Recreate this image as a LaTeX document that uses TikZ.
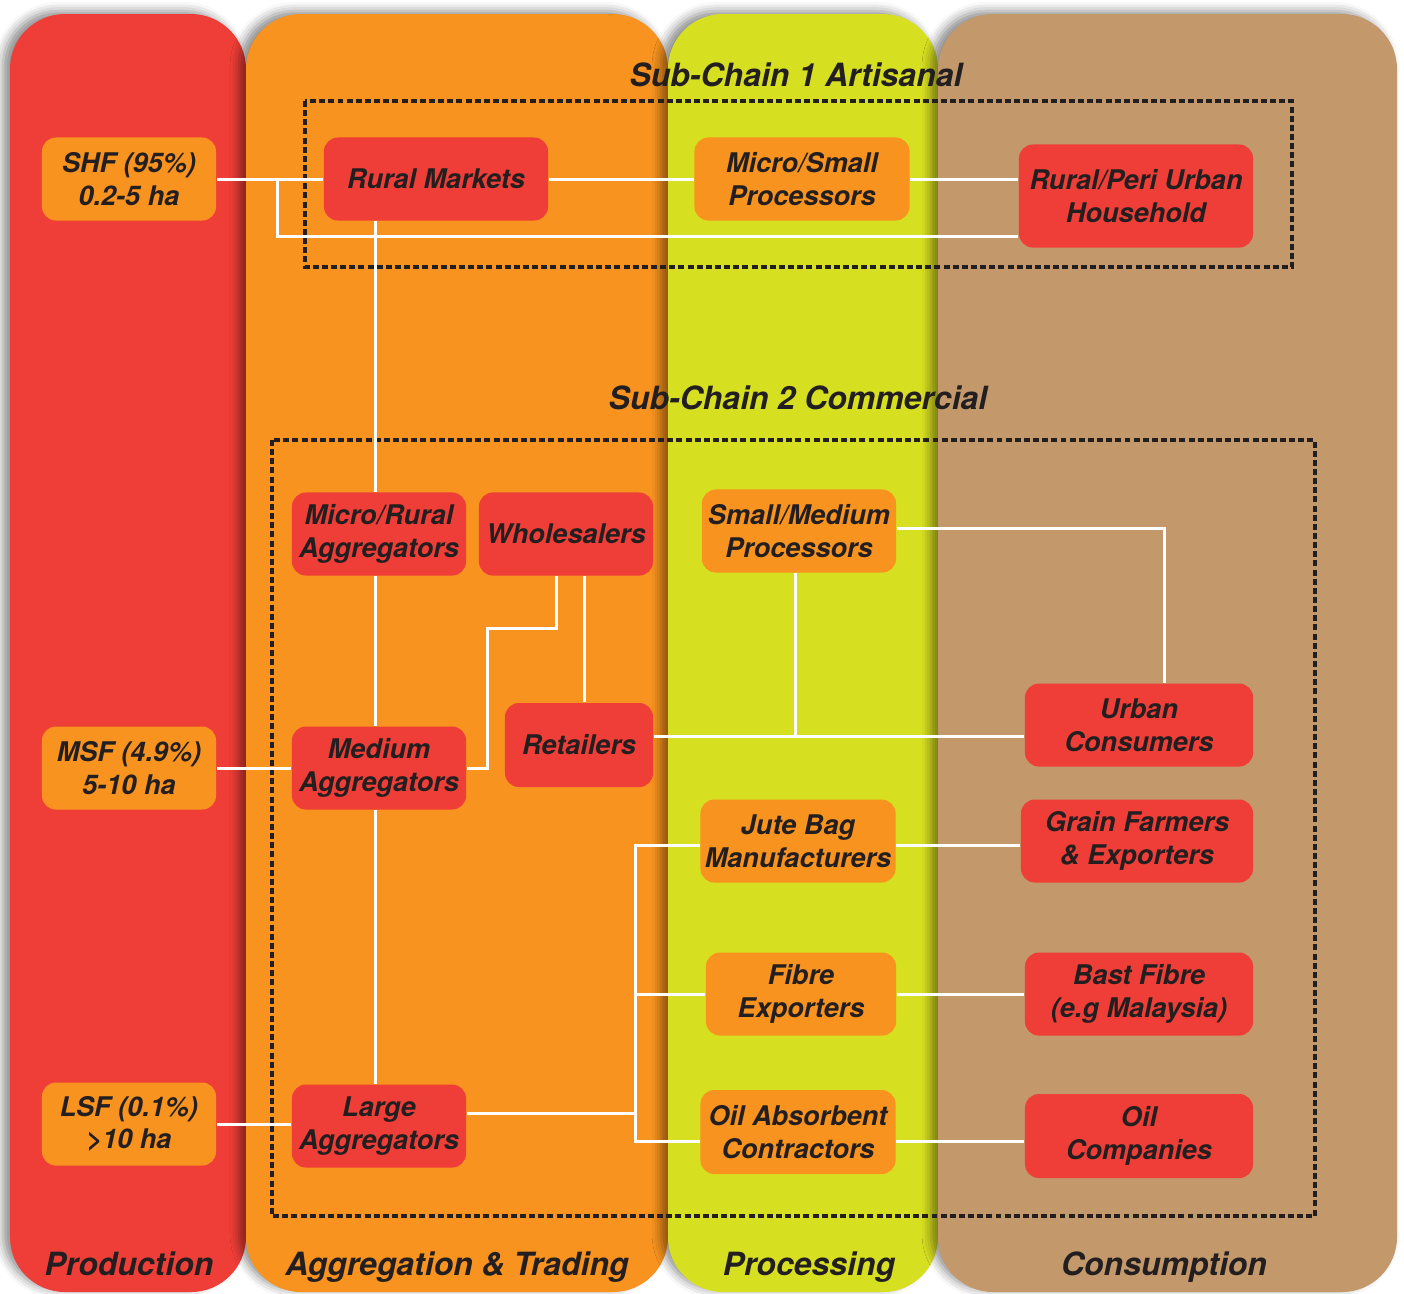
\documentclass[tikz,border=0pt]{standalone}
\usepackage{fontspec}
\setmainfont{TeX Gyre Heros}
\usetikzlibrary{
  positioning,
  calc,
  shadows.blur
}
\definecolor{chainred}{HTML}{EF3E37}
\definecolor{chainorange}{HTML}{F7931E}
\definecolor{chainlime}{HTML}{D7DF21}
\definecolor{chaintan}{HTML}{C3996B}
\definecolor{ink}{HTML}{231F20}

\begin{document}
\begin{tikzpicture}[
  x=0.01cm, y=-0.01cm,
  column/.style={rounded corners=0.55cm,
                 blur shadow={shadow xshift=-0.07cm, shadow yshift=0.03cm,
                              shadow blur radius=0.09cm, shadow opacity=45}},
  stage/.style={rounded corners=0.14cm, inner sep=0pt, align=center, text=ink,
                font=\bfseries\itshape\fontsize{7.7}{9.3}\selectfont,
                minimum width=1.74cm, minimum height=0.83cm},
  redbox/.style={stage, fill=chainred},
  orgbox/.style={stage, fill=chainorange},
  heading/.style={font=\bfseries\itshape\fontsize{9.1}{11}\selectfont, text=ink},
  link/.style={draw=white, line width=0.85pt},
  subchain/.style={draw=ink, line width=1.1pt, dash pattern=on 1.7pt off 0.9pt}
]
  \useasboundingbox (0,0) rectangle (1404,1293);

  % value chain stages
  \fill[chainred, column] (10,14) rectangle (246,1292);
  \fill[chainorange, column] (246,14) rectangle (668,1292);
  \fill[chainlime, column] (668,14) rectangle (938,1292);
  \fill[chaintan, column] (938,14) rectangle (1397,1292);

  \node[heading, anchor=base] (production) at (129,1275) {Production};
  \node[heading, anchor=base] (trading) at (457,1275) {Aggregation \& Trading};
  \node[heading, anchor=base] (processing) at (809,1275) {Processing};
  \node[heading, anchor=base] (consumption) at (1164,1275) {Consumption};

  % sub-chain frames
  \draw[subchain] (305,101) rectangle (1292,267);
  \draw[subchain] (272,440) rectangle (1315,1216);
  \node[heading] (artisanal) at (796,75) {Sub-Chain 1 Artisanal};
  \node[heading] (commercial) at (798,398) {Sub-Chain 2 Commercial};

  % farmers
  \node[orgbox] (shf) at (129,179) {SHF (95\%)\\0.2-5 ha};
  \node[orgbox] (msf) at (129,768) {MSF (4.9\%)\\5-10 ha};
  \node[orgbox] (lsf) at (129,1124) {LSF (0.1\%)\\\textgreater10 ha};

  % sub-chain 1
  \node[redbox, minimum width=2.24cm] (rural) at (436,179) {Rural Markets};
  \node[orgbox, minimum width=2.15cm] (microproc) at (802,179) {Micro/Small\\Processors};
  \node[redbox, minimum width=2.34cm, minimum height=1.03cm] (household) at (1136,196)
    {Rural/Peri Urban\\Household};

  % sub-chain 2
  \node[redbox] (microagg) at (379,534) {Micro/Rural\\Aggregators};
  \node[redbox] (wholesale) at (566,534) {Wholesalers};
  \node[redbox] (medagg) at (379,768) {Medium\\Aggregators};
  \node[redbox, minimum width=1.48cm, minimum height=0.84cm] (retail) at (579,745) {Retailers};
  \node[redbox] (largeagg) at (379,1126) {Large\\Aggregators};

  \node[orgbox, minimum width=1.94cm] (smallproc) at (799,531) {Small/Medium\\Processors};
  \node[orgbox, minimum width=1.95cm] (jute) at (798,841) {Jute Bag\\Manufacturers};
  \node[orgbox, minimum width=1.90cm] (fibre) at (801,994) {Fibre\\Exporters};
  \node[orgbox, minimum width=1.95cm, minimum height=0.84cm] (oilabs) at (798,1132)
    {Oil Absorbent\\Contractors};

  \node[redbox, minimum width=2.28cm] (urban) at (1139,725) {Urban\\Consumers};
  \node[redbox, minimum width=2.32cm] (grain) at (1137,841) {Grain Farmers\\\& Exporters};
  \node[redbox, minimum width=2.28cm] (bast) at (1139,994) {Bast Fibre\\(e.g Malaysia)};
  \node[redbox, minimum width=2.28cm, minimum height=0.84cm] (oilco) at (1139,1136) {Oil\\Companies};

  % links
  \coordinate (hhsplit) at (277,179);
  \coordinate (lowrow) at (0,236);
  \coordinate (whbend) at (487,628);
  \coordinate (urbanrow) at (0,736);
  \coordinate (bus) at (635,0);

  \draw[link] (shf.east) -- (rural.west);
  \draw[link] (hhsplit) |- (household.west |- lowrow);
  \draw[link] (rural.east) -- (microproc.west);
  \draw[link] (microproc.east) -- (microproc.east -| household.west);
  \draw[link] ([xshift=-0.04cm]microagg.north |- rural.south) -- ([xshift=-0.04cm]microagg.north);
  \draw[link] ([xshift=-0.04cm]microagg.south) -- ([xshift=-0.04cm]medagg.north);
  \draw[link] ([xshift=-0.04cm]medagg.south) -- ([xshift=-0.04cm]largeagg.north);

  \draw[link] (msf.east) -- (medagg.west);
  \draw[link] (medagg.east) -| (whbend) -| ([xshift=-0.1cm]wholesale.south);
  \draw[link] ([xshift=0.18cm]wholesale.south) -- ([xshift=0.18cm]wholesale.south |- retail.north);
  \draw[link] (retail.east |- urbanrow) -- (urban.west |- urbanrow);
  \draw[link] ([xshift=-0.04cm]smallproc.south) -- ([xshift=-0.04cm]smallproc.south |- urbanrow);
  \draw[link] ([yshift=0.03cm]smallproc.east) -| ([xshift=0.25cm]urban.north);

  \draw[link] (lsf.east) -- (lsf.east -| largeagg.west);
  \draw[link] ([yshift=0.13cm]largeagg.east) -- ([yshift=0.13cm]largeagg.east -| bus);
  \draw[link] ([yshift=-0.04cm]jute.west) -| ([yshift=-0.09cm]oilabs.west -| bus)
    -- ([yshift=-0.09cm]oilabs.west);
  \draw[link] (fibre.west) -- (fibre.west -| bus);
  \draw[link] ([yshift=-0.04cm]jute.east) -- ([yshift=-0.04cm]jute.east -| grain.west);
  \draw[link] (fibre.east) -- (bast.west);
  \draw[link] ([yshift=-0.09cm]oilabs.east) -- ([yshift=-0.09cm]oilabs.east -| oilco.west);
\end{tikzpicture}
\end{document}
